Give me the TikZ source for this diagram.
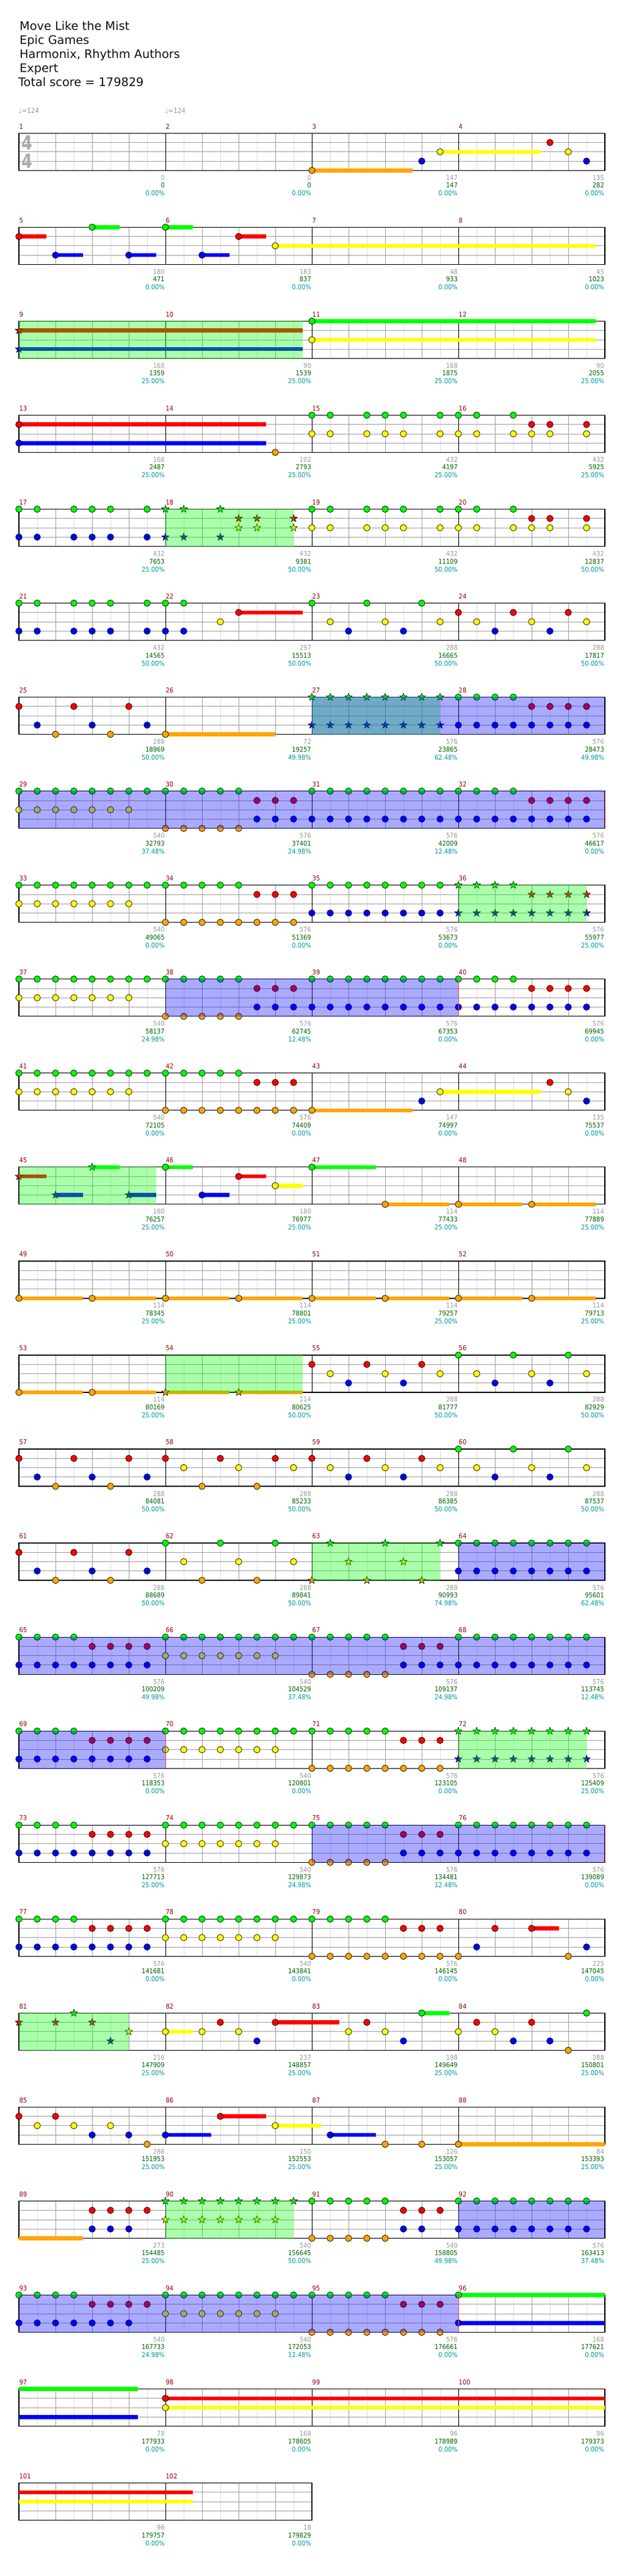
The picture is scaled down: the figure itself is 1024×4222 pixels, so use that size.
\documentclass[tikz,border=0pt]{standalone}
\usepackage{fontspec}
\setmainfont{DejaVu Sans}
\newfontfamily\condfont[FakeStretch=0.9]{DejaVu Sans}
\newfontfamily\tsfont[FakeStretch=0.8]{DejaVu Sans}
\usetikzlibrary{shapes.geometric}
\definecolor{nG}{RGB}{0,255,0}
\definecolor{nR}{RGB}{255,0,0}
\definecolor{nY}{RGB}{255,255,0}
\definecolor{nB}{RGB}{0,0,255}
\definecolor{nO}{RGB}{255,165,0}
\colorlet{lane0}{nG}\colorlet{lane1}{nR}\colorlet{lane2}{nY}\colorlet{lane3}{nB}\colorlet{lane4}{nO}
\definecolor{mnum}{RGB}{150,0,0}
\definecolor{sgray}{RGB}{153,153,153}
\definecolor{sgreen}{RGB}{0,100,0}
\definecolor{steal}{RGB}{0,153,153}
\definecolor{glight}{RGB}{222,222,222}
\definecolor{gmid}{RGB}{160,160,160}
\definecolor{tsgray}{RGB}{170,170,170}
\definecolor{ttl}{RGB}{17,17,17}
\pgfdeclarelayer{grid}\pgfdeclarelayer{sus}\pgfdeclarelayer{notes}
\pgfdeclarelayer{gshade}\pgfdeclarelayer{bshade}
\pgfsetlayers{grid,sus,notes,gshade,bshade,main}
\def\smallf{\condfont\fontsize{11}{13}\selectfont}
\newcommand\xmpos[1]{%
 \pgfmathtruncatemacro\xmR{int((#1-1)/4)}%
 \pgfmathtruncatemacro\xmC{mod(#1-1,4)}%
 \pgfmathsetmacro\xmX{31+240*\xmC}%
 \pgfmathsetmacro\xmY{218.3+154.05*\xmR}}
\newcommand\xstaff[2]{%
 \pgfmathsetmacro\sY{218.3+154.05*#1}%
 \pgfmathtruncatemacro\nL{8*#2}%
 \pgfmathsetmacro\sR{31+240*#2}%
 \begin{pgfonlayer}{grid}
 \foreach \i in {1,3,...,\nL} {\draw[glight,line width=0.8pt] (31+30*\i,\sY) -- ++(0,61);}
 \draw[gmid,line width=0.8pt] (31,\sY+15.25) -- (\sR,\sY+15.25) (31,\sY+30.5) -- (\sR,\sY+30.5) (31,\sY+45.75) -- (\sR,\sY+45.75);
 \foreach \i in {2,4,...,\nL} {\draw[gmid,line width=0.8pt] (31+30*\i,\sY) -- ++(0,61);}
 \foreach \i in {8,16,...,\nL} {\draw[black,line width=0.8pt] (31+30*\i,\sY) -- ++(0,61);}
 \draw[black,line width=1.2pt] (31,\sY) rectangle (\sR,\sY+61);
 \end{pgfonlayer}}
\newcommand\xnote[3]{\xmpos{#1}\begin{pgfonlayer}{notes}\foreach \p in {#3}{\filldraw[fill=lane#2,draw=black,line width=0.7pt] (\xmX+30*\p,\xmY+15.25*#2) circle[radius=5.3];}\end{pgfonlayer}}
\newcommand\xstar[3]{\xmpos{#1}\begin{pgfonlayer}{notes}\foreach \p in {#3}{\filldraw[fill=lane#2,draw=black,line width=0.6pt,shift={(\xmX+30*\p,\xmY+15.25*#2)}] (270:6.4) -- (306:2.6) -- (342:6.4) -- (18:2.6) -- (54:6.4) -- (90:2.6) -- (126:6.4) -- (162:2.6) -- (198:6.4) -- (234:2.6) -- cycle;}\end{pgfonlayer}}
\newcommand\xsus[4]{\xmpos{#1}\begin{pgfonlayer}{sus}\fill[lane#2] (\xmX+30*#3,\xmY+15.25*#2-3.3) rectangle (\xmX+30*#4,\xmY+15.25*#2+3.3);\end{pgfonlayer}}
\newcommand\xns[4]{\xsus{#1}{#2}{#3}{#4}\xnote{#1}{#2}{#3}}
\newcommand\xss[4]{\xsus{#1}{#2}{#3}{#4}\xstar{#1}{#2}{#3}}
\newcommand\xgs[3]{\xmpos{#1}\begin{pgfonlayer}{gshade}\fill[nG,opacity=0.333] (\xmX+30*#2,\xmY-0.6) rectangle (\xmX+30*#3,\xmY+61.6);\end{pgfonlayer}}
\newcommand\xbs[3]{\xmpos{#1}\begin{pgfonlayer}{bshade}\fill[nB,opacity=0.333] (\xmX+30*#2,\xmY-0.6) rectangle (\xmX+30*#3,\xmY+61.6);\end{pgfonlayer}}
\newcommand\xrl[2]{\xmpos{#1}\begin{pgfonlayer}{bshade}\draw[nR!70,line width=0.7pt] (\xmX+30*#2,\xmY) -- ++(0,61);\end{pgfonlayer}}
\newcommand\xpA[1]{\xnote{#1}{0}{0,...,7}\xnote{#1}{2}{0,...,6}}
\newcommand\xpB[1]{\xnote{#1}{0}{0,...,4}\xnote{#1}{4}{0,...,4}\xnote{#1}{1}{5,6,7}\xnote{#1}{3}{5,6,7}}
\newcommand\xpC[1]{\xnote{#1}{0}{0,...,7}\xnote{#1}{3}{0,...,7}}
\newcommand\xpD[1]{\xnote{#1}{0}{0,...,3}\xnote{#1}{1}{4,...,7}\xnote{#1}{3}{0,...,7}}
\newcommand\xpE[1]{\xnote{#1}{0}{0,...,4}\xnote{#1}{4}{0,...,7}\xnote{#1}{1}{5,6,7}}
\newcommand\xscore[4]{\xmpos{#1}%
 \node[mnum,anchor=base west,inner sep=0pt,font=\smallf] (mn#1) at (\xmX+0.5,\xmY-7.3) {#1};%
 \node[sgray,anchor=base east,inner sep=0pt,font=\smallf] (sg#1) at (\xmX+239,\xmY+77) {#2};%
 \node[sgreen,anchor=base east,inner sep=0pt,font=\smallf] (sc#1) at (\xmX+239,\xmY+89.5) {#3};%
 \node[steal,anchor=base east,inner sep=0pt,font=\smallf] (sp#1) at (\xmX+239,\xmY+102.5) {#4\%};}
\begin{document}
\begin{tikzpicture}[x=1pt,y=-1pt]
\useasboundingbox (0,0) rectangle (1024,4222);
\begin{pgfonlayer}{grid}\fill[white] (0,0) rectangle (1024,4222);\end{pgfonlayer}
% title
\node[ttl,anchor=base west,inner sep=0pt,font=\fontsize{19.3}{23}\selectfont] (t1) at (32,49.3) {Move Like the Mist};
\node[ttl,anchor=base west,inner sep=0pt,font=\fontsize{19.3}{23}\selectfont] (t2) at (32,72.3) {Epic Games};
\node[ttl,anchor=base west,inner sep=0pt,font=\fontsize{19.3}{23}\selectfont] (t3) at (32,95.3) {Harmonix, Rhythm Authors};
\node[ttl,anchor=base west,inner sep=0pt,font=\fontsize{19.3}{23}\selectfont] (t4) at (32,118.3) {Expert};
\node[ttl,anchor=base west,inner sep=0pt,font=\fontsize{19.3}{23}\selectfont] (t5) at (30,141.3) {Total score = 179829};
% tempo
\node[sgray,anchor=base west,inner sep=0pt,font=\condfont\fontsize{11.5}{13}\selectfont] (tp1) at (30.5,185.5) {♩=124};
\node[sgray,anchor=base west,inner sep=0pt,font=\condfont\fontsize{11.5}{13}\selectfont] (tp2) at (270.5,185.5) {♩=124};
% time signature
\node[tsgray,anchor=base west,inner sep=0pt,font=\tsfont\bfseries\fontsize{32}{32}\selectfont] (ts1) at (35,245) {4};
\node[tsgray,anchor=base west,inner sep=0pt,font=\tsfont\bfseries\fontsize{32}{32}\selectfont] (ts2) at (35,275) {4};
% staves
\foreach \r in {0,...,24} {\xstaff{\r}{4}}
\xstaff{25}{2}
% row 1
\xns{3}{4}{0}{5.5}\xnote{3}{3}{6}\xns{3}{2}{7}{12.5}
\xnote{4}{1}{5}\xnote{4}{2}{6}\xnote{4}{3}{7}
% row 2
\xns{5}{1}{0}{1.5}\xns{5}{3}{2}{3.5}\xns{5}{0}{4}{5.5}\xns{5}{3}{6}{7.5}
\xns{6}{0}{0}{1.5}\xns{6}{3}{2}{3.5}\xns{6}{1}{4}{5.5}\xns{6}{2}{6}{23.5}
% row 3
\xss{9}{1}{0}{15.5}\xss{9}{3}{0}{15.5}\xgs{9}{0}{15.5}
\xns{11}{0}{0}{15.5}\xns{11}{2}{0}{15.5}
% row 4
\xns{13}{1}{0}{13.5}\xns{13}{3}{0}{13.5}\xnote{14}{4}{6}
\xnote{15}{0}{0,1,3,4,5,7}\xnote{15}{2}{0,1,3,4,5,7}
\xnote{16}{0}{0,1,3}\xnote{16}{2}{0,1,3,4,5,7}\xnote{16}{1}{4,5,7}
% row 5
\xnote{17}{0}{0,1,3,4,5,7}\xnote{17}{3}{0,1,3,4,5,7}
\xstar{18}{0}{0,1,3}\xstar{18}{3}{0,1,3}\xstar{18}{1}{4,5,7}\xstar{18}{2}{4,5,7}\xgs{18}{0}{7}
\xnote{19}{0}{0,1,3,4,5,7}\xnote{19}{2}{0,1,3,4,5,7}
\xnote{20}{0}{0,1,3}\xnote{20}{2}{0,1,3,4,5,7}\xnote{20}{1}{4,5,7}
% row 6
\xnote{21}{0}{0,1,3,4,5,7}\xnote{21}{3}{0,1,3,4,5,7}
\xnote{22}{0}{0,1}\xnote{22}{3}{0,1}\xnote{22}{2}{3}\xns{22}{1}{4}{7.5}
\xnote{23}{0}{0,3,6}\xnote{23}{2}{1,4,7}\xnote{23}{3}{2,5}
\xnote{24}{1}{0,3,6}\xnote{24}{2}{1,4,7}\xnote{24}{3}{2,5}
% row 7
\xnote{25}{1}{0,3,6}\xnote{25}{3}{1,4,7}\xnote{25}{4}{2,5}
\xns{26}{4}{0}{6}
\xstar{27}{0}{0,...,7}\xstar{27}{3}{0,...,7}\xgs{27}{0}{7}\xbs{27}{0}{16}
\xpD{28}
% row 8
\xpA{29}\xpB{30}\xpC{31}\xpD{32}\xbs{29}{0}{32}\xrl{29}{32}
% row 9
\xpA{33}\xpE{34}\xpC{35}
\xstar{36}{0}{0,...,3}\xstar{36}{1}{4,...,7}\xstar{36}{3}{0,...,7}\xgs{36}{0}{7}
% row 10
\xpA{37}\xpB{38}\xpC{39}\xpD{40}\xbs{38}{0}{16}\xrl{38}{16}
% row 11
\xpA{41}\xpE{42}
\xns{43}{4}{0}{5.5}\xnote{43}{3}{6}\xns{43}{2}{7}{12.5}
\xnote{44}{1}{5}\xnote{44}{2}{6}\xnote{44}{3}{7}
% row 12
\xss{45}{1}{0}{1.5}\xss{45}{3}{2}{3.5}\xss{45}{0}{4}{5.5}\xss{45}{3}{6}{7.5}\xgs{45}{0}{7.5}
\xns{46}{0}{0}{1.5}\xns{46}{3}{2}{3.5}\xns{46}{1}{4}{5.5}\xns{46}{2}{6}{7.5}
\xns{47}{0}{0}{3.5}\xns{47}{4}{4}{7.5}
\xns{48}{4}{0}{3.5}\xns{48}{4}{4}{7.5}
% row 13
\foreach \m in {49,...,53} {\xns{\m}{4}{0}{3.5}\xns{\m}{4}{4}{7.5}}
% row 14
\xss{54}{4}{0}{3.5}\xss{54}{4}{4}{7.5}\xgs{54}{0}{7.5}
\xnote{55}{1}{0,3,6}\xnote{55}{2}{1,4,7}\xnote{55}{3}{2,5}
\xnote{56}{0}{0,3,6}\xnote{56}{2}{1,4,7}\xnote{56}{3}{2,5}
% row 15
\xnote{57}{1}{0,3,6}\xnote{57}{3}{1,4,7}\xnote{57}{4}{2,5}
\xnote{58}{1}{0,3,6}\xnote{58}{2}{1,4,7}\xnote{58}{4}{2,5}
\xnote{59}{1}{0,3,6}\xnote{59}{2}{1,4,7}\xnote{59}{3}{2,5}
\xnote{60}{0}{0,3,6}\xnote{60}{2}{1,4,7}\xnote{60}{3}{2,5}
% row 16
\xnote{61}{1}{0,3,6}\xnote{61}{3}{1,4,7}\xnote{61}{4}{2,5}
\xnote{62}{0}{0,3,6}\xnote{62}{2}{1,4,7}\xnote{62}{4}{2,5}
\xstar{63}{4}{0,3,6}\xstar{63}{0}{1,4,7}\xstar{63}{2}{2,5}\xgs{63}{0}{7}
\xpC{64}\xbs{64}{0}{8}
% row 17
\xpD{65}\xpA{66}\xpB{67}\xpC{68}\xbs{65}{0}{32}
% row 18
\xpD{69}\xpA{70}\xpE{71}\xbs{69}{0}{8}\xrl{69}{8}
\xstar{72}{0}{0,...,7}\xstar{72}{3}{0,...,7}\xgs{72}{0}{7}
% row 19
\xpD{73}\xpA{74}\xpB{75}\xpC{76}\xbs{75}{0}{16}\xrl{75}{16}
% row 20
\xpD{77}\xpA{78}\xpE{79}
\xnote{80}{4}{0,6}\xnote{80}{3}{1,7}\xnote{80}{1}{2}\xns{80}{1}{4}{5.5}
% row 21
\xstar{81}{1}{0,2,4}\xstar{81}{0}{3}\xstar{81}{3}{5}\xstar{81}{2}{6}\xgs{81}{0}{6}
\xns{82}{2}{0}{1.5}\xnote{82}{2}{2,4}\xnote{82}{1}{3}\xnote{82}{3}{5}\xns{82}{1}{6}{9.5}
\xnote{83}{2}{2,4}\xnote{83}{1}{3}\xnote{83}{3}{5}\xns{83}{0}{6}{7.5}
\xnote{84}{2}{0,2}\xnote{84}{1}{1,4}\xnote{84}{3}{3,5}\xnote{84}{4}{6}\xnote{84}{0}{7}
% row 22
\xnote{85}{1}{0,2}\xnote{85}{2}{1,3,5}\xnote{85}{3}{4,6}\xnote{85}{4}{7}
\xns{86}{3}{0}{2.5}\xns{86}{1}{3}{5.5}\xns{86}{2}{6}{8.5}
\xns{87}{3}{1}{3.5}\xnote{87}{4}{4,6}
\xns{88}{4}{0}{8}
% row 23
\xsus{89}{4}{0}{3.5}\xnote{89}{1}{4,...,7}\xnote{89}{3}{4,5,6}
\xstar{90}{0}{0,...,7}\xstar{90}{2}{0,...,6}\xgs{90}{0}{7}
\xnote{91}{0}{0,...,4}\xnote{91}{4}{0,...,4}\xnote{91}{1}{5,6,7}\xnote{91}{3}{5,6}
\xpC{92}\xbs{92}{0}{8}
% row 24
\xnote{93}{0}{0,...,3}\xnote{93}{1}{4,...,7}\xnote{93}{3}{0,...,6}
\xpA{94}\xpE{95}
\xns{96}{0}{0}{8}\xns{96}{3}{0}{8}
\xbs{93}{0}{24}\xrl{93}{24}
% row 25
\xsus{97}{0}{0}{6.5}\xsus{97}{3}{0}{6.5}\xns{98}{1}{0}{24}\xns{98}{2}{0}{24}
% row 26
\xsus{101}{1}{0}{9.5}\xsus{101}{2}{0}{9.5}
% scores
\foreach \m/\a/\b/\c in {1/0/0/0.00,2/0/0/0.00,3/147/147/0.00,4/135/282/0.00,
5/180/471/0.00,6/183/837/0.00,7/48/933/0.00,8/45/1023/0.00,
9/168/1359/25.00,10/90/1539/25.00,11/168/1875/25.00,12/90/2055/25.00,
13/168/2487/25.00,14/102/2793/25.00,15/432/4197/25.00,16/432/5925/25.00,
17/432/7653/25.00,18/432/9381/50.00,19/432/11109/50.00,20/432/12837/50.00,
21/432/14565/50.00,22/297/15513/50.00,23/288/16665/50.00,24/288/17817/50.00,
25/288/18969/50.00,26/72/19257/49.98,27/576/23865/62.48,28/576/28473/49.98,
29/540/32793/37.48,30/576/37401/24.98,31/576/42009/12.48,32/576/46617/0.00,
33/540/49065/0.00,34/576/51369/0.00,35/576/53673/0.00,36/576/55977/25.00,
37/540/58137/24.98,38/576/62745/12.48,39/576/67353/0.00,40/576/69945/0.00,
41/540/72105/0.00,42/576/74409/0.00,43/147/74997/0.00,44/135/75537/0.00,
45/180/76257/25.00,46/180/76977/25.00,47/114/77433/25.00,48/114/77889/25.00,
49/114/78345/25.00,50/114/78801/25.00,51/114/79257/25.00,52/114/79713/25.00,
53/114/80169/25.00,54/114/80625/50.00,55/288/81777/50.00,56/288/82929/50.00,
57/288/84081/50.00,58/288/85233/50.00,59/288/86385/50.00,60/288/87537/50.00,
61/288/88689/50.00,62/288/89841/50.00,63/288/90993/74.98,64/576/95601/62.48,
65/576/100209/49.98,66/540/104529/37.48,67/576/109137/24.98,68/576/113745/12.48,
69/576/118353/0.00,70/540/120801/0.00,71/576/123105/0.00,72/576/125409/25.00,
73/576/127713/25.00,74/540/129873/24.98,75/576/134481/12.48,76/576/139089/0.00,
77/576/141681/0.00,78/540/143841/0.00,79/576/146145/0.00,80/225/147045/0.00,
81/216/147909/25.00,82/237/148857/25.00,83/198/149649/25.00,84/288/150801/25.00,
85/288/151953/25.00,86/150/152553/25.00,87/126/153057/25.00,88/84/153393/25.00,
89/273/154485/25.00,90/540/156645/50.00,91/540/158805/49.98,92/576/163413/37.48,
93/540/167733/24.98,94/540/172053/12.48,95/576/176661/0.00,96/168/177621/0.00,
97/78/177933/0.00,98/168/178605/0.00,99/96/178989/0.00,100/96/179373/0.00,
101/96/179757/0.00,102/18/179829/0.00}{\xscore{\m}{\a}{\b}{\c}}
\end{tikzpicture}
\end{document}
